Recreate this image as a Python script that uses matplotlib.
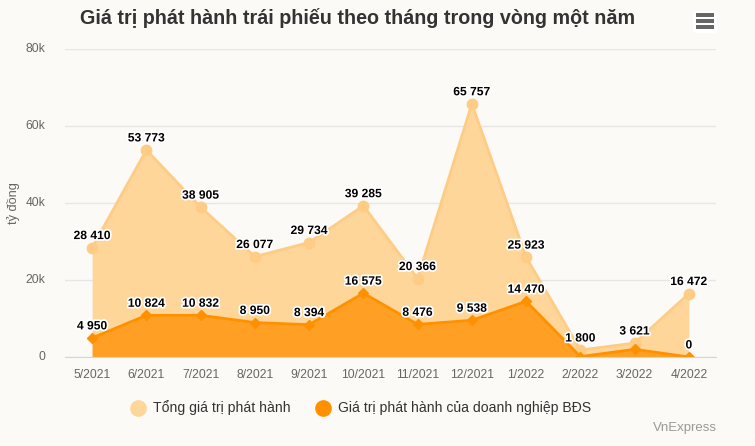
import matplotlib.pyplot as plt
import matplotlib.patheffects as pe
from matplotlib.lines import Line2D
from matplotlib.patches import FancyBboxPatch, Rectangle

plt.rcParams['font.family'] = ['Liberation Sans', 'DejaVu Sans']

months = ['5/2021', '6/2021', '7/2021', '8/2021', '9/2021', '10/2021', '11/2021',
          '12/2021', '1/2022', '2/2022', '3/2022', '4/2022']
total = [28410, 53773, 38905, 26077, 29734, 39285, 20366, 65757, 25923, 1800, 3621, 16472]
bds = [4950, 10824, 10832, 8950, 8394, 16575, 8476, 9538, 14470, 100, 2000, 0]
bds_hidden = [9, 10]  # labels hidden in the original (overlap)
yticks = [0, 20000, 40000, 60000, 80000]
ytick_labels = ['0', '20k', '40k', '60k', '80k']

bg = '#FBFAF7'
light_fill, light_line = '#FFD699', '#FFCC85'
dark_fill, dark_line = '#FFA024', '#FF9100'

W, H = 755, 446
fig = plt.figure(figsize=(7.55, 4.46), dpi=100, facecolor=bg)
ax = fig.add_axes([65 / W, 1 - 357 / H, (716 - 65) / W, (357 - 49) / H])
ax.set_facecolor(bg)

x = list(range(len(months)))
ax.fill_between(x, total, color=light_fill, lw=0, zorder=2)
ax.plot(x, total, color=light_line, lw=2, marker='o', ms=7.5, zorder=3)
ax.fill_between(x, bds, color=dark_fill, lw=0, zorder=4)
ax.plot(x, bds, color=dark_line, lw=2, marker='D', ms=5.5, zorder=5)

outline = [pe.withStroke(linewidth=2.5, foreground='white')]
for i, v in enumerate(total):
    ax.annotate(f'{v:,}'.replace(',', ' '), (i, v), xytext=(0, 4), textcoords='offset points',
                ha='center', va='bottom', fontsize=8.7, fontweight='bold', color='black',
                path_effects=outline, zorder=6)
for i, v in enumerate(bds):
    if i in bds_hidden:
        continue
    ax.annotate(f'{v:,}'.replace(',', ' '), (i, v), xytext=(0, 4), textcoords='offset points',
                ha='center', va='bottom', fontsize=8.7, fontweight='bold', color='black',
                path_effects=outline, zorder=6)

ax.set_xlim(-0.5, len(months) - 0.5)
ax.set_ylim(0, 80000)
ax.set_yticks(yticks)
ax.set_yticklabels(ytick_labels)
ax.set_xticks(x)
ax.set_xticklabels(months)
ax.tick_params(length=0, labelsize=8.7, colors='#666666')
ax.tick_params(axis='x', pad=9)
ax.tick_params(axis='y', pad=14)
for t in ax.get_yticklabels():
    t.set_verticalalignment('center')
ax.grid(axis='y', color='#E6E6E6', lw=1, zorder=0)
ax.set_axisbelow(True)
for s in ['top', 'right', 'left']:
    ax.spines[s].set_visible(False)
ax.spines['bottom'].set_color('#CCD6EB')
ax.spines['bottom'].set_zorder(7)
ax.set_ylabel('tỷ đồng', fontsize=9.2, color='#666666')
ax.yaxis.set_label_coords(-45 / 651, 0.5)

fig.text(358 / W, 1 - 18 / H, 'Giá trị phát hành trái phiếu theo tháng trong vòng một năm',
         ha='center', va='center', fontsize=14.2, fontweight='bold', color='#333333')

handles = [Line2D([], [], ls='', marker='o', ms=11, color=light_fill),
           Line2D([], [], ls='', marker='o', ms=11, color=dark_line)]
leg = fig.legend(handles, ['Tổng giá trị phát hành', 'Giá trị phát hành của doanh nghiệp BĐS'],
                 loc='center', bbox_to_anchor=(361 / W, 1 - 408 / H), ncol=2, frameon=False,
                 fontsize=10.1, handletextpad=0.58, columnspacing=1.76, handlelength=1.0)
for t in leg.get_texts():
    t.set_color('#333333')

fig.text(717 / W, 1 - 428 / H, 'VnExpress', ha='right', va='center', fontsize=9.5, color='#999999')

# menu button
fig.patches.append(FancyBboxPatch((693 / W, 1 - 33 / H), 24 / W, 22 / H,
                                  boxstyle='round,pad=0,rounding_size=0.004',
                                  transform=fig.transFigure, facecolor='white', edgecolor='none'))
for yy in [15, 21, 27]:
    fig.patches.append(Rectangle((696 / W, 1 - (yy + 1.5) / H), 18 / W, 3 / H,
                                 transform=fig.transFigure, facecolor='#666666', edgecolor='none'))

fig.savefig('out.png', dpi=100, facecolor=bg)
